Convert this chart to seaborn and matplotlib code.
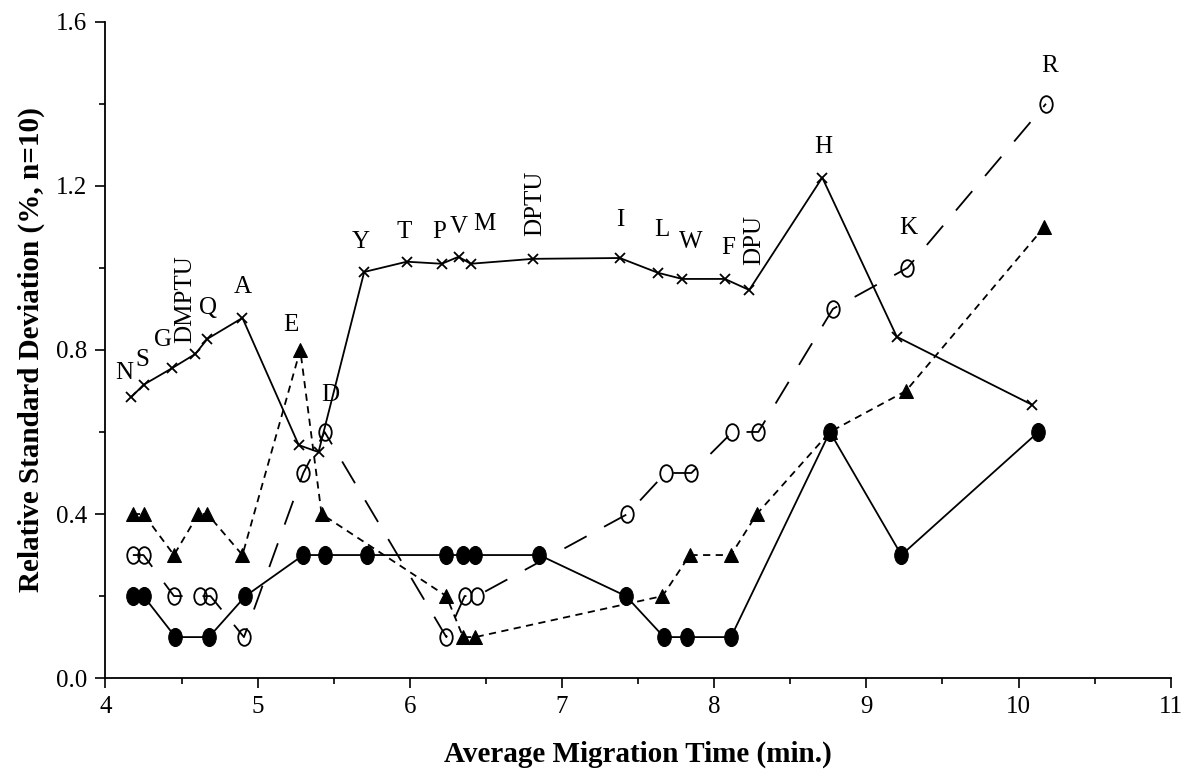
import matplotlib
matplotlib.use("Agg")
import matplotlib.pyplot as plt
import seaborn as sns
from matplotlib.path import Path
from matplotlib.transforms import Affine2D
from matplotlib.ticker import MultipleLocator, FormatStrFormatter

# crosses, solid line (labelled series)
cross_x = [4.17, 4.25, 4.44, 4.59, 4.67, 4.90, 5.27, 5.40, 5.70, 5.98, 6.21,
           6.32, 6.40, 6.81, 7.38, 7.63, 7.79, 8.07, 8.23, 8.71, 9.20, 10.09]
cross_y = [0.685, 0.715, 0.756, 0.79, 0.827, 0.878, 0.568, 0.551, 0.99, 1.015, 1.01,
           1.027, 1.01, 1.022, 1.024, 0.988, 0.973, 0.973, 0.946, 1.22, 0.832, 0.666]
cross_labels = ["N", "S", "G", "DMPTU", "Q", "A", "E", "D", "Y", "T", "P",
                "V", "M", "DPTU", "I", "L", "W", "F", "DPU", "H", "K", "R"]
# label offsets from the cross point, in pixels (dx, dy up)
label_offsets = [(-7, 24), (-1, 25), (-9, 28), (-10, 55), (1, 31), (0, 31), (-8, 120),
                 (12, 57), (-3, 30), (-3, 30), (-3, 32), (0, 30), (14, 40), (2, 56),
                 (0, 38), (4, 43), (9, 37), (3, 31), (5, 50), (1, 31), (11, 109), (17, 339)]

# filled triangles, short dashes
tri_x = [4.18, 4.25, 4.45, 4.61, 4.67, 4.90, 5.28, 5.42, 6.24, 6.35, 6.43,
         7.66, 7.84, 8.11, 8.28, 8.76, 9.26, 10.17]
tri_y = [0.4, 0.4, 0.3, 0.4, 0.4, 0.3, 0.8, 0.4, 0.2, 0.1, 0.1,
         0.2, 0.3, 0.3, 0.4, 0.6, 0.7, 1.1]

# open circles, long dashes
ocirc_x = [4.18, 4.25, 4.45, 4.62, 4.69, 4.91, 5.30, 5.44, 6.24, 6.36, 6.44,
           7.43, 7.68, 7.85, 8.12, 8.29, 8.78, 9.27, 10.18]
ocirc_y = [0.3, 0.3, 0.2, 0.2, 0.2, 0.1, 0.5, 0.6, 0.1, 0.2, 0.2,
           0.4, 0.5, 0.5, 0.6, 0.6, 0.9, 1.0, 1.4]

# filled circles, solid line
fcirc_x = [4.18, 4.25, 4.46, 4.68, 4.92, 5.30, 5.44, 5.72, 6.24, 6.35, 6.43,
           6.85, 7.42, 7.67, 7.82, 8.11, 8.76, 9.23, 10.13]
fcirc_y = [0.2, 0.2, 0.1, 0.1, 0.2, 0.3, 0.3, 0.3, 0.3, 0.3, 0.3,
           0.3, 0.2, 0.1, 0.1, 0.1, 0.6, 0.3, 0.6]

sns.set_style("ticks")
plt.rcParams["font.family"] = ["Liberation Serif", "DejaVu Serif"]
plt.rcParams["text.color"] = "black"
plt.rcParams["axes.labelcolor"] = "black"
plt.rcParams["xtick.color"] = "black"
plt.rcParams["ytick.color"] = "black"

oval = Path.unit_circle().transformed(Affine2D().scale(0.75, 1.0))

fig, ax = plt.subplots(figsize=(11.85, 7.75), dpi=100)
fig.subplots_adjust(left=0.089, right=0.988, bottom=0.125, top=0.972)

common = dict(ax=ax, color="black", lw=1.3, estimator=None, sort=False)
sns.lineplot(x=ocirc_x, y=ocirc_y, linestyle=(0, (14, 11)), marker=oval, markersize=12,
             markerfacecolor="none", markeredgecolor="black", markeredgewidth=1.3, **common)
sns.lineplot(x=tri_x, y=tri_y, linestyle=(0, (4, 3)), marker="^", markersize=10,
             markerfacecolor="black", markeredgecolor="black", **common)
sns.lineplot(x=fcirc_x, y=fcirc_y, linestyle="-", marker=oval, markersize=13,
             markerfacecolor="black", markeredgecolor="black", **common)
sns.lineplot(x=cross_x, y=cross_y, linestyle="-", marker="x", markersize=7,
             markeredgecolor="black", markeredgewidth=1.3, **common)

for x, y, lab, (dx, dy) in zip(cross_x, cross_y, cross_labels, label_offsets):
    ax.annotate(lab, (x, y), xytext=(dx, dy), textcoords="offset pixels",
                ha="center", va="center", fontsize=18, color="black",
                rotation=90 if len(lab) > 1 else 0)

ax.set_xlim(4, 11)
ax.set_ylim(0, 1.6)
ax.xaxis.set_major_locator(MultipleLocator(1))
ax.xaxis.set_minor_locator(MultipleLocator(0.5))
ax.yaxis.set_major_locator(MultipleLocator(0.4))
ax.yaxis.set_minor_locator(MultipleLocator(0.2))
ax.yaxis.set_major_formatter(FormatStrFormatter("%.1f"))
ax.tick_params(which="major", length=7, width=1.2, labelsize=18, pad=6)
ax.tick_params(which="minor", length=4, width=1.2)
sns.despine(ax=ax)
for sp in ["left", "bottom"]:
    ax.spines[sp].set_linewidth(1.3)
    ax.spines[sp].set_color("black")

ax.set_xlabel("Average Migration Time (min.)", fontsize=21, fontweight="bold", labelpad=16)
ax.set_ylabel("Relative Standard Deviation (%, n=10)", fontsize=21, fontweight="bold", labelpad=8)

fig.savefig("out.png", dpi=100)
